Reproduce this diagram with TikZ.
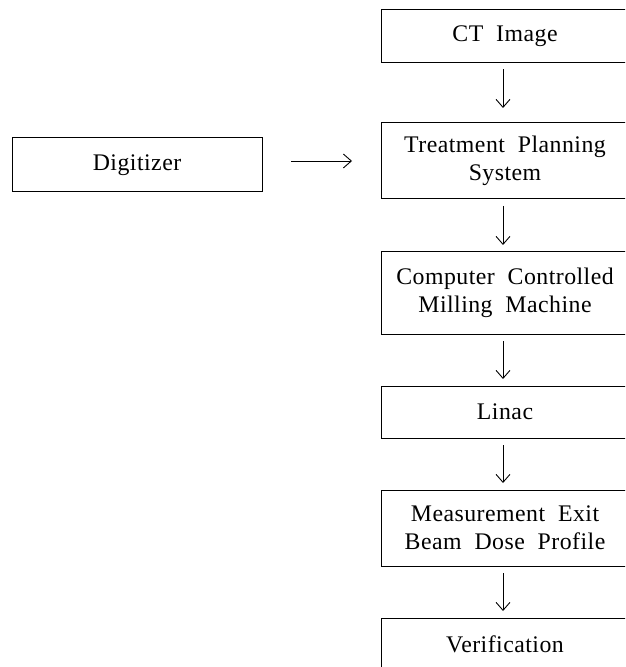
\documentclass[tikz,border=0pt]{standalone}
\usepackage{fontspec}
\setmainfont{Liberation Serif}[WordSpace=2,LetterSpace=2]
\usepackage{tikz}
\usetikzlibrary{arrows.meta,calc}
\tikzset{
    block/.style={draw, rectangle, line width=0.5pt, inner sep=0pt, outer sep=0pt, align=center, font=\fontsize{11.9}{14}\selectfont},
    flow/.style={line width=0.45pt, -{Straight Barb[length=4pt,width=7pt]}, shorten <=3.5pt, shorten >=3.5pt}}

\begin{document}
\begin{tikzpicture}[x=0.5pt,y=-0.5pt]
\useasboundingbox (0,0) rectangle (625,667);
\clip (0,0) rectangle (625,667);

\node[block, minimum width=124pt, minimum height=26.5pt] (ct) at (505,36) {CT Image};
\node[block, minimum width=124pt, minimum height=38pt] (tps) at (505,161) {Treatment Planning\\System};
\node[block, minimum width=124pt, minimum height=41pt] (mill) at (505,293) {Computer Controlled\\Milling Machine};
\node[block, minimum width=124pt, minimum height=26pt] (linac) at (505,412) {Linac};
\node[block, minimum width=124pt, minimum height=38pt] (meas) at (505,528) {Measurement Exit\\Beam Dose Profile};
\node[block, minimum width=124pt, minimum height=26pt] (verif) at (505,644) {Verification};
\node[block, minimum width=125pt, minimum height=27pt] (dig) at (137,165) {Digitizer};

%draw arrows
\draw[flow, shorten >=7.5pt] ([xshift=-1pt]ct.south) -- ([xshift=-1pt]tps.north);
\draw[flow] ([xshift=-1pt]tps.south) -- ([xshift=-1pt]mill.north);
\draw[flow] ([xshift=-1pt]mill.south) -- ([xshift=-1pt]linac.north);
\draw[flow] ([xshift=-1pt]linac.south) -- ([xshift=-1pt]meas.north);
\draw[flow] ([xshift=-1pt]meas.south) -- ([xshift=-1pt]verif.north);
\draw[flow, shorten <=14.5pt, shorten >=14.5pt] (dig.east |- tps.west) -- (tps.west);

\end{tikzpicture}
\end{document}
